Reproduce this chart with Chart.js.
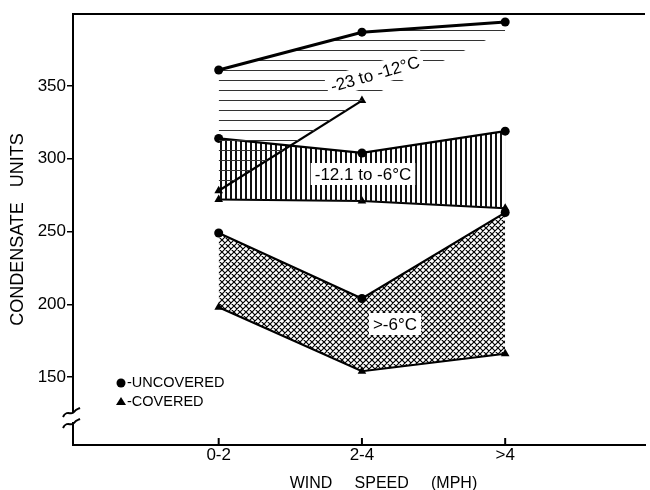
<!DOCTYPE html>
<html>
<head>
<meta charset="utf-8">
<script src="https://cdn.jsdelivr.net/npm/chart.js@4.4.1/dist/chart.umd.min.js"></script>
<style>
html, body { margin: 0; padding: 0; background: #fff; }
canvas { display: block; }
</style>
</head>
<body>
<canvas id="myChart" width="650" height="490"></canvas>
<script>
// data
var windSpeeds = ["0-2", "2-4", ">4"];
var yTicks = [150, 200, 250, 300, 350];

// -23 to -12 C
var uncoveredCold = [361, 387, 394];
var coveredCold = [278, 340, null];
var coldHatchEdge = [278, 340, 388];   // where the horizontal hatching stops
// -12.1 to -6 C
var uncoveredMid = [314, 304, 319];
var coveredMid = [272, 271, 266];
// > -6 C
var uncoveredWarm = [249, 204, 263];
var coveredWarm = [198, 154, 166];

var toXY = function(arr) {
    return arr.map(function(v, i) { return { x: i, y: v }; });
};

// hatch patterns
var makePattern = function(kind) {
    var c = document.createElement("canvas");
    var g = c.getContext("2d");
    if (kind === "h") {
        c.width = 12; c.height = 10;
        g.fillStyle = "#333";
        g.fillRect(0, 0, 12, 1);
    } else if (kind === "v") {
        c.width = 5; c.height = 4;
        g.fillStyle = "#111";
        g.fillRect(0, 0, 2, 4);
    } else {
        var s = 6;
        c.width = s; c.height = s;
        g.strokeStyle = "#000";
        g.lineWidth = 1.2;
        g.beginPath();
        [-s, 0, s].forEach(function(o) {
            g.moveTo(o, 0); g.lineTo(o + s, s);
            g.moveTo(o + s, 0); g.lineTo(o, s);
        });
        g.stroke();
    }
    return g.createPattern(c, "repeat");
};

var labelBox = function(ctx, text, cx, cy, angle, font) {
    ctx.save();
    ctx.translate(cx, cy);
    ctx.rotate(angle);
    ctx.font = font;
    var w = ctx.measureText(text).width;
    ctx.fillStyle = "#fff";
    ctx.fillRect(-w / 2 - 4, -11, w + 8, 22);
    ctx.fillStyle = "#000";
    ctx.textAlign = "center";
    ctx.textBaseline = "middle";
    ctx.fillText(text, 0, 1);
    ctx.restore();
};

var decorations = {
    id: "decorations",
    afterDraw: function(chart) {
        var ctx = chart.ctx;
        var area = chart.chartArea;
        var xs = chart.scales.x;
        ctx.save();
        // top frame line
        ctx.strokeStyle = "#000";
        ctx.lineWidth = 2;
        ctx.beginPath();
        ctx.moveTo(area.left - 1, area.top);
        ctx.lineTo(area.right, area.top);
        ctx.stroke();
        // inward x ticks
        windSpeeds.forEach(function(l, i) {
            var px = xs.getPixelForValue(i);
            ctx.beginPath();
            ctx.moveTo(px, area.bottom);
            ctx.lineTo(px, area.bottom - 7);
            ctx.stroke();
        });
        // axis break
        ctx.fillStyle = "#fff";
        ctx.fillRect(area.left - 3, 413, 6, 9);
        ctx.lineWidth = 2;
        ctx.beginPath();
        ctx.moveTo(63, 417);
        ctx.bezierCurveTo(67, 409, 71, 416, 74, 412);
        ctx.bezierCurveTo(76, 409, 78, 409, 80, 408);
        ctx.moveTo(63, 428);
        ctx.bezierCurveTo(67, 420, 71, 427, 74, 423);
        ctx.bezierCurveTo(76, 420, 78, 420, 80, 419);
        ctx.stroke();
        ctx.restore();

        // band labels
        labelBox(ctx, "-23 to -12°C", 375, 74, -0.28, "17px 'Liberation Sans'");
        labelBox(ctx, "-12.1 to -6°C", 363, 174, 0, "17px 'Liberation Sans'");
        labelBox(ctx, ">-6°C", 395, 324, 0, "17px 'Liberation Sans'");

        // legend
        ctx.save();
        ctx.fillStyle = "#000";
        ctx.beginPath();
        ctx.arc(121, 383, 4.5, 0, Math.PI * 2);
        ctx.fill();
        ctx.beginPath();
        ctx.moveTo(121, 397);
        ctx.lineTo(126, 405);
        ctx.lineTo(116, 405);
        ctx.closePath();
        ctx.fill();
        ctx.font = "14.5px 'Liberation Sans'";
        ctx.textBaseline = "middle";
        ctx.fillText("-UNCOVERED", 127, 383);
        ctx.fillText("-COVERED", 127, 402);
        ctx.restore();
    }
};

var lineSet = function(data, style, width, extra) {
    var ds = {
        data: toXY(data),
        borderColor: "#000",
        backgroundColor: "#000",
        borderWidth: width,
        pointStyle: style,
        pointRadius: style === "circle" ? 4.5 : 5,
        pointBackgroundColor: "#000",
        pointBorderWidth: 0,
        fill: false,
        tension: 0
    };
    for (var k in extra) { ds[k] = extra[k]; }
    return ds;
};

var myChart = document.getElementById("myChart").getContext("2d");

var condensateChart = new Chart(myChart, {
    type: "line",
    data: {
        datasets: [
            lineSet(uncoveredCold, "circle", 3, { fill: 2, backgroundColor: makePattern("h") }),
            lineSet(coveredCold, "triangle", 2.2, {}),
            lineSet(coldHatchEdge, "circle", 0, { pointRadius: 0, borderColor: "rgba(0,0,0,0)" }),
            lineSet(uncoveredMid, "circle", 2.2, { fill: 4, backgroundColor: makePattern("v") }),
            lineSet(coveredMid, "triangle", 2.2, {}),
            lineSet(uncoveredWarm, "circle", 2.2, { fill: 6, backgroundColor: makePattern("x") }),
            lineSet(coveredWarm, "triangle", 2.2, {})
        ]
    },
    options: {
        responsive: false,
        animation: false,
        devicePixelRatio: 1,
        events: [],
        layout: {
            padding: { top: 14, right: 0, left: 0, bottom: 0 }
        },
        plugins: {
            legend: { display: false },
            tooltip: { enabled: false }
        },
        scales: {
            x: {
                type: "linear",
                min: -1.017,
                max: 2.976,
                afterBuildTicks: function(s) {
                    s.ticks = windSpeeds.map(function(l, i) { return { value: i }; });
                },
                afterFit: function(s) { s.height = 45; },
                grid: { display: false, drawTicks: false },
                border: { display: true, color: "#000", width: 2 },
                ticks: {
                    color: "#000",
                    padding: 0,
                    maxRotation: 0,
                    font: { family: "Liberation Sans", size: 17 },
                    callback: function(v) { return windSpeeds[v]; }
                },
                title: {
                    display: true,
                    // leading spaces shift the title right, as in the figure
                    text: "           WIND     SPEED     (MPH)",
                    color: "#000",
                    padding: { top: 0, bottom: 0 },
                    font: { family: "Liberation Sans", size: 16, lineHeight: 0.8 }
                }
            },
            y: {
                type: "linear",
                min: 103.3,
                max: 399.5,
                afterBuildTicks: function(s) {
                    s.ticks = yTicks.map(function(v) { return { value: v }; });
                },
                afterFit: function(s) { s.width = 73; },
                grid: {
                    display: true,
                    drawOnChartArea: false,
                    drawTicks: true,
                    tickLength: 6,
                    color: "#000",
                    lineWidth: 1.5
                },
                border: { display: true, color: "#000", width: 2 },
                ticks: {
                    color: "#000",
                    padding: 1,
                    font: { family: "Liberation Sans", size: 17 }
                },
                title: {
                    display: true,
                    text: "CONDENSATE   UNITS",
                    color: "#000",
                    padding: { top: 9, bottom: 0 },
                    font: { family: "Liberation Sans", size: 18, lineHeight: 1 }
                }
            }
        }
    },
    plugins: [decorations]
});
</script>
</body>
</html>
